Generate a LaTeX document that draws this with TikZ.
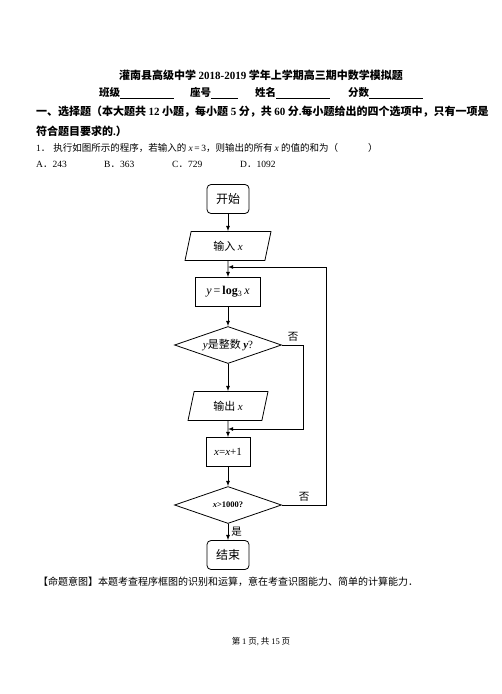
\documentclass[tikz,border=0pt]{standalone}
\usepackage{fontspec}
\setmainfont{Noto Sans CJK SC}
\newfontfamily\latin{Liberation Serif}
\usepackage{tikz}
\usetikzlibrary{positioning}
\usetikzlibrary{arrows,shapes.geometric}

\newcommand{\vx}[1]{{\latin\itshape #1}}
\newcommand{\nm}[1]{{\latin #1}}

\tikzset{
	txt/.style={anchor=west,inner sep=0pt},
	flow/.style={draw,line width=0.8pt,font=\fontsize{11}{13}\selectfont},
	term/.style={flow,rounded corners=4pt,minimum width=42pt,minimum height=29pt,font=\fontsize{12}{14}\selectfont},
	proc/.style={flow,rectangle,minimum height=29pt},
	io/.style={flow,trapezium,trapezium left angle=70,trapezium right angle=110,trapezium stretches body,minimum height=29pt},
	decide/.style={flow,diamond,aspect=3,inner sep=0pt,minimum width=107pt,minimum height=37pt},
	lbl/.style={inner sep=1pt,font=\fontsize{10.5}{12}\selectfont},
	link/.style={->,>=latex,line width=0.8pt}
}

\begin{document}
\begin{tikzpicture}[x=1pt,y=-1pt]
	  \useasboundingbox (0,0) rectangle (502,694);
	  \node (title) [font=\fontsize{11}{13}\selectfont\bfseries] at (261,75) {灌南县高级中学 \nm{2018-2019} 学年上学期高三期中数学模拟题};
	  \node (klass) [txt,font=\fontsize{10.5}{12}\selectfont\bfseries] at (99,93) {班级\underline{\hspace{54pt}}};
	  \node (seat) [txt,font=\fontsize{10.5}{12}\selectfont\bfseries] at (190,93) {座号\underline{\hspace{27pt}}};
	  \node (sname) [txt,font=\fontsize{10.5}{12}\selectfont\bfseries] at (255,93) {姓名\underline{\hspace{54pt}}};
	  \node (score) [txt,font=\fontsize{10.5}{12}\selectfont\bfseries] at (348,93) {分数\underline{\hspace{54pt}}};
	  \node (head1) [txt,font=\fontsize{11}{13}\selectfont\bfseries] at (36,112) {一、选择题（本大题共 \nm{12} 小题，每小题 \nm{5} 分，共 \nm{60} 分\nm{.}每小题给出的四个选项中，只有一项是};
	  \node (head2) [txt,font=\fontsize{11}{13}\selectfont\bfseries] at (36,131) {符合题目要求的\nm{.}）};
	  \node (quest) [txt,font=\fontsize{9.5}{11}\selectfont] at (36,148) {\nm{1}．\hspace{3pt}执行如图所示的程序，若输入的 \vx{x}\,\nm{=}\,\nm{3}，则输出的所有 \vx{x} 的值的和为（\hspace{30pt}）};
	  \node (optA) [txt,font=\fontsize{9.5}{11}\selectfont] at (36,164) {\nm{A}．\nm{243}};
	  \node (optB) [txt,font=\fontsize{9.5}{11}\selectfont] at (104,164) {\nm{B}．\nm{363}};
	  \node (optC) [txt,font=\fontsize{9.5}{11}\selectfont] at (172,164) {\nm{C}．\nm{729}};
	  \node (optD) [txt,font=\fontsize{9.5}{11}\selectfont] at (240,164) {\nm{D}．\nm{1092}};

	  \node (start) [term] at (228,199) {开始};
	  \node (input) [io,minimum width=86pt] at (228,246) {输入 \vx{x}};
	  \node (logbox) [proc,minimum width=65pt,font=\fontsize{12}{14}\selectfont] at (228,292) {\vx{y}\,\nm{=}\,\nm{\textbf{log}}\textsubscript{\nm{3}}\,\vx{x}};
	  \node (isint) [decide] at (228,345) {\vx{y}是整数 \nm{\bfseries\itshape y}\nm{?}};
	  \node (output) [io,minimum width=80pt] at (228,406) {输出 \vx{x}};
	  \node (incbox) [proc,minimum width=44pt] at (228,452) {\vx{x}\nm{=}\vx{x}\nm{+1}};
	  \node (test) [decide,font=\fontsize{8.5}{10}\selectfont] at (228,505) {\nm{\bfseries\itshape x\upshape >1000?}};
	  \node (stop) [term] at (228,555) {结束};
	  \coordinate (j1) at (228,429);
	  \coordinate (b1) at (303,429);
	  \coordinate (j2) at (228,267);
	  \coordinate (b2) at (326,267);

	  \draw [link] (start) -- (input);
	  \draw [link] (input) -- (logbox);
	  \draw [link] (logbox) -- (isint);
	  \draw [link] (isint) -- (output);
	  \draw [link] (output) -- (incbox);
	  \draw [link] (incbox) -- (test);
	  \draw [link] (test) -- node (yes) [lbl,right=2pt] {是} (stop);
	  \draw [link] (isint.east) -| (b1) -- (j1);
	  \draw [link] (test.east) -| (b2) -- (j2);
	  \node (no1) [lbl] at (293,337) {否};
	  \node (no2) [lbl] at (304,497) {否};

	  \node (aim) [txt,font=\fontsize{10}{12}\selectfont] at (38,582) {【命题意图】本题考查程序框图的识别和运算，意在考查识图能力、简单的计算能力．};
	  \node (page) [font=\fontsize{8.5}{10}\selectfont] at (261,642) {第 \nm{1} 页\nm{,} 共 \nm{15} 页};
	\end{tikzpicture}
\end{document}
